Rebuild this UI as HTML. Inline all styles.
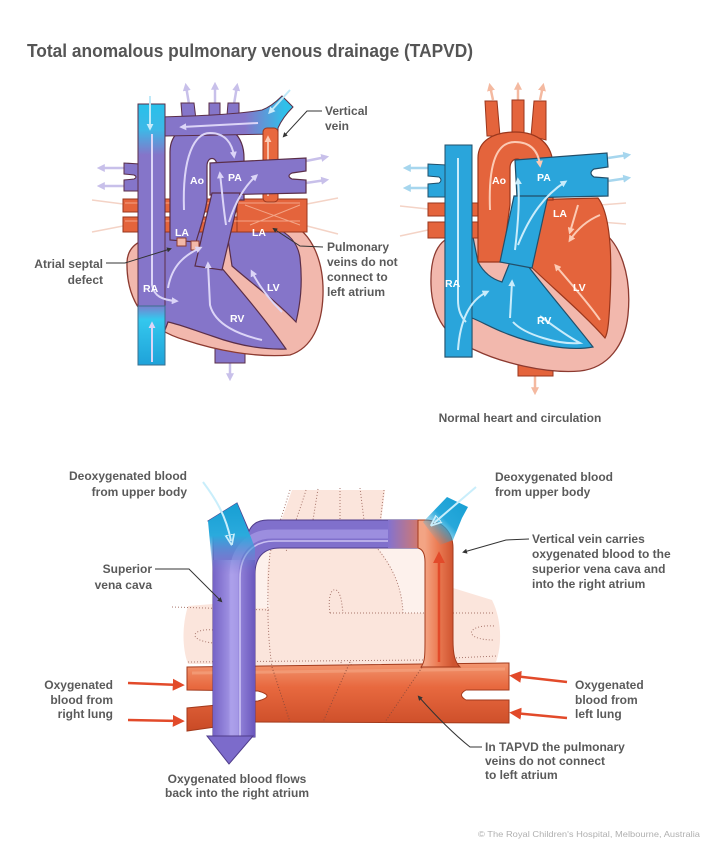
<!DOCTYPE html>
<html><head><meta charset="utf-8"><title>TAPVD</title>
<style>
html,body{margin:0;padding:0;background:#fff;width:720px;height:846px;overflow:hidden}
svg{display:block}
.t{font-family:"Liberation Sans",Arial,sans-serif;font-weight:bold;fill:#5a5a5a;font-size:12px}
.w{font-family:"Liberation Sans",Arial,sans-serif;font-weight:bold;fill:#fff;font-size:10.5px}
</style></head><body>
<svg width="720" height="846" viewBox="0 0 720 846" xmlns="http://www.w3.org/2000/svg">
<defs>
<marker id="mL" viewBox="0 0 10 10" refX="6" refY="5" markerWidth="8" markerHeight="8" markerUnits="userSpaceOnUse" orient="auto"><path d="M0,0 L10,5 L0,10 Z" fill="#c8c0ea"/></marker>
<marker id="mLO" viewBox="0 0 10 10" refX="6" refY="5" markerWidth="8" markerHeight="8" markerUnits="userSpaceOnUse" orient="auto"><path d="M0,0 L10,5 L0,10 Z" fill="#f4b9a0"/></marker>
<marker id="mLB" viewBox="0 0 10 10" refX="6" refY="5" markerWidth="8" markerHeight="8" markerUnits="userSpaceOnUse" orient="auto"><path d="M0,0 L10,5 L0,10 Z" fill="#a6d6ee"/></marker>
<marker id="mW" viewBox="0 0 10 10" refX="6" refY="5" markerWidth="7" markerHeight="7" markerUnits="userSpaceOnUse" orient="auto"><path d="M0,0 L10,5 L0,10 Z" fill="#dcd5f7"/></marker>
<marker id="mWB" viewBox="0 0 10 10" refX="6" refY="5" markerWidth="7" markerHeight="7" markerUnits="userSpaceOnUse" orient="auto"><path d="M0,0 L10,5 L0,10 Z" fill="#c9ecfb"/></marker>
<marker id="mWO" viewBox="0 0 10 10" refX="6" refY="5" markerWidth="7" markerHeight="7" markerUnits="userSpaceOnUse" orient="auto"><path d="M0,0 L10,5 L0,10 Z" fill="#fccab4"/></marker>
<marker id="mR" viewBox="0 0 10 10" refX="6" refY="5" markerWidth="12" markerHeight="12" markerUnits="userSpaceOnUse" orient="auto"><path d="M0,0 L10,5 L0,10 Z" fill="#e24a2a"/></marker>
<marker id="mC" viewBox="0 0 10 10" refX="6" refY="5" markerWidth="11" markerHeight="11" markerUnits="userSpaceOnUse" orient="auto"><path d="M0,1 L10,5 L0,9 Z" fill="none" stroke="#c9eefb" stroke-width="1.6"/></marker>
<marker id="mD" viewBox="0 0 10 10" refX="6" refY="5" markerWidth="5" markerHeight="5" markerUnits="userSpaceOnUse" orient="auto"><path d="M0,0 L10,5 L0,10 Z" fill="#333"/></marker>

<linearGradient id="gSvcL" gradientUnits="userSpaceOnUse" x1="0" y1="104" x2="0" y2="155"><stop offset="0" stop-color="#28c0ea"/><stop offset="0.5" stop-color="#3db8e7"/><stop offset="1" stop-color="#8575c9"/></linearGradient>
<linearGradient id="gIvcL" gradientUnits="userSpaceOnUse" x1="0" y1="304" x2="0" y2="365"><stop offset="0" stop-color="#8575c9"/><stop offset="0.25" stop-color="#34c8ee"/><stop offset="1" stop-color="#1fa2d9"/></linearGradient>
<linearGradient id="gHorzL" gradientUnits="userSpaceOnUse" x1="245" y1="0" x2="285" y2="0"><stop offset="0" stop-color="#8575c9"/><stop offset="1" stop-color="#2fc0ea"/></linearGradient>
<linearGradient id="gBar" gradientUnits="userSpaceOnUse" x1="0" y1="663" x2="0" y2="731"><stop offset="0" stop-color="#f29670"/><stop offset="0.35" stop-color="#e8693f"/><stop offset="1" stop-color="#c94a26"/></linearGradient>
<linearGradient id="gVein" gradientUnits="userSpaceOnUse" x1="425" y1="0" x2="453" y2="0"><stop offset="0" stop-color="#f3a484"/><stop offset="0.45" stop-color="#ec7c54"/><stop offset="1" stop-color="#cf5430"/></linearGradient>
<linearGradient id="gFade" gradientUnits="userSpaceOnUse" x1="388" y1="0" x2="428" y2="0"><stop offset="0" stop-color="#8372d0"/><stop offset="1" stop-color="#e97a52"/></linearGradient>
<linearGradient id="gCyL" gradientUnits="userSpaceOnUse" x1="0" y1="503" x2="0" y2="575"><stop offset="0" stop-color="#179fd3"/><stop offset="0.45" stop-color="#2aaadd"/><stop offset="1" stop-color="#8372d0" stop-opacity="0"/></linearGradient>
<linearGradient id="gCyR" gradientUnits="userSpaceOnUse" x1="466" y1="500" x2="430" y2="537"><stop offset="0" stop-color="#179fd3"/><stop offset="0.55" stop-color="#27a8db"/><stop offset="1" stop-color="#27a8db" stop-opacity="0"/></linearGradient>
<linearGradient id="gPurpV" gradientUnits="userSpaceOnUse" x1="213" y1="0" x2="255" y2="0"><stop offset="0" stop-color="#7563c6"/><stop offset="0.45" stop-color="#a497e6"/><stop offset="1" stop-color="#6a57bd"/></linearGradient>
</defs>

<!-- Title -->
<text x="27" y="57" font-family="Liberation Sans, Arial, sans-serif" font-weight="bold" font-size="18" fill="#555" textLength="446" lengthAdjust="spacingAndGlyphs">Total anomalous pulmonary venous drainage (TAPVD)</text>

<!-- ================= LEFT HEART (TAPVD) ================= -->
<g stroke="#f4d3c6" stroke-width="1.5" fill="none">
<path d="M123 204 L92 200"/><path d="M123 226 L92 232"/><path d="M307 204 L338 198"/><path d="M307 226 L338 234"/>
</g>
<g stroke="#c8c0ea" stroke-width="2.5" fill="none" marker-end="url(#mL)">
<line x1="189" y1="104" x2="186" y2="86"/>
<line x1="215" y1="104" x2="215" y2="85"/>
<line x1="234" y1="104" x2="237" y2="86"/>
<line x1="124" y1="168" x2="100" y2="168"/>
<line x1="124" y1="186" x2="100" y2="186"/>
<line x1="306" y1="161" x2="326" y2="157"/>
<line x1="306" y1="183" x2="326" y2="180"/>
<line x1="230" y1="362" x2="230" y2="378"/>
</g>
<rect x="215" y="330" width="30" height="33" fill="#8575c9" stroke="#5a2e48"/>
<path d="M127 262 C128 240,150 236,175 236 L205 232 L290 224 C312 232,324 262,323 295 C322 325,312 348,290 355 C255 358,215 350,185 340 C150 330,126 305,127 262 Z" fill="#f2b8ad" stroke="#8c3a30" stroke-width="1.3"/>
<path d="M140 225 L214 225 L220 266 C242 292,266 320,286 349 C260 350,234 344,212 336 C196 331,182 325,168 322 L165 330 L140 330 Z" fill="#8575c9" stroke="#5a2e48" stroke-width="1.2"/>
<path d="M226 226 C262 218,296 228,300 258 C303 285,300 305,296 322 C275 300,250 282,232 266 Z" fill="#8575c9" stroke="#5a2e48" stroke-width="1.2"/>
<g fill="#e4643c" stroke="#9a361c" stroke-width="1">
<rect x="123" y="199" width="184" height="13"/>
<rect x="123" y="217" width="184" height="15"/>
<rect x="237" y="199" width="70" height="33"/>
</g>
<g stroke="#f6b59a" stroke-width="1" fill="none" opacity=".8"><path d="M245 205 L300 225 M250 225 L300 205 M125 203 L300 203 M125 221 L300 221"/></g>
<path d="M140 164 L124 163 L124 174 L134 175 Q138 177 134 179 L124 180 L124 191 L140 191 Z" fill="#8575c9" stroke="#5a2e48"/>
<g fill="#8575c9" stroke="#5a2e48">
<path d="M183 128 L181 103 L194 103 L197 128 Z"/>
<rect x="209" y="103" width="11" height="24"/>
<path d="M226 128 L228 103 L239 103 L239 132 Z"/>
</g>
<path d="M170 240 L170 152 C170 132,186 123,207 123 C229 123,244 135,244 158 L244 200 L217 200 L217 166 C217 156,207 156,207 166 L207 200 C205 215,200 228,196 242 Z" fill="#8575c9" stroke="#5a2e48" stroke-width="1.2"/>
<path d="M160 117 C200 116,240 114,262 110 C270 107,276 102,282 96 L293 107 C287 113,281 121,278 128 L278 134 L165 136 Z" fill="url(#gHorzL)" stroke="#5a2e48"/>
<rect x="263" y="128" width="15" height="74" rx="4" fill="#e8683e" stroke="#9a361c"/>
<line x1="268" y1="196" x2="268" y2="138" stroke="#f6c0a8" stroke-width="2" marker-end="url(#mWO)"/>
<line x1="290" y1="90" x2="270" y2="112" stroke="#bfe9f8" stroke-width="2" marker-end="url(#mWB)"/>
<path d="M210 163 L306 158 L306 171 L292 173 Q286 176 292 179 L306 180 L306 193 L210 195 Z" fill="#8575c9" stroke="#5a2e48" stroke-width="1.2"/>
<path d="M212 193 L240 193 L222 270 L195 266 Z" fill="#8575c9" stroke="#5a2e48" stroke-width="1.2"/>
<rect x="138" y="104" width="27" height="212" fill="url(#gSvcL)" stroke="#5a2e48"/>
<rect x="138" y="306" width="27" height="59" fill="url(#gIvcL)" stroke="#3b6f8e"/>
<line x1="150" y1="96" x2="150" y2="128" stroke="#bfe9f8" stroke-width="2" marker-end="url(#mWB)"/>
<rect x="177" y="238" width="9" height="8" fill="#f2b8a8" stroke="#8c3a30"/>
<rect x="191" y="241" width="8" height="9" fill="#f2b8a8" stroke="#8c3a30"/>
<g stroke="#dcd5f7" stroke-width="2" fill="none" marker-end="url(#mW)">
<path d="M152 134 L152 285 C154 296,162 300,176 301"/>
<path d="M152 362 L152 324"/>
<path d="M168 288 C172 265,185 255,200 248"/>
<path d="M184 210 C182 155,195 133,210 133 C225 133,232 143,234 156"/>
<path d="M258 123 L182 127"/>
<path d="M226 225 C223 205,222 190,220 174"/>
<path d="M229 222 C236 200,245 186,256 176"/>
<path d="M262 340 C240 335,215 325,210 305 L208 264"/>
<path d="M282 312 C270 300,260 288,252 272"/>
</g>
<g class="w">
<text x="190" y="184">Ao</text><text x="228" y="181">PA</text>
<text x="175" y="236">LA</text><text x="252" y="236">LA</text>
<text x="143" y="292">RA</text><text x="267" y="291">LV</text><text x="230" y="322">RV</text>
</g>
<g stroke="#333" stroke-width="1" fill="none">
<path d="M322 111 L307 111 L284 136" marker-end="url(#mD)"/>
<path d="M323 247 L300 246 L274 229" marker-end="url(#mD)"/>
<path d="M106 263 L125 263 L170 249" marker-end="url(#mD)"/>
</g>
<text class="t" x="325" y="115">Vertical</text>
<text class="t" x="325" y="130">vein</text>
<text class="t" x="327" y="251">Pulmonary</text>
<text class="t" x="327" y="266">veins do not</text>
<text class="t" x="327" y="281">connect to</text>
<text class="t" x="327" y="296">left atrium</text>
<text class="t" x="103" y="268" text-anchor="end">Atrial septal</text>
<text class="t" x="103" y="284" text-anchor="end">defect</text>

<!-- ================= RIGHT HEART (normal) ================= -->
<g stroke="#f4d3c6" stroke-width="1.5" fill="none">
<path d="M428 209 L400 206"/><path d="M428 230 L400 236"/><path d="M600 205 L626 203"/><path d="M600 222 L626 224"/>
</g>
<g stroke="#f4b9a0" stroke-width="2.5" fill="none" marker-end="url(#mLO)">
<line x1="493" y1="100" x2="490" y2="86"/>
<line x1="518" y1="100" x2="518" y2="85"/>
<line x1="540" y1="100" x2="543" y2="86"/>
<line x1="535" y1="376" x2="535" y2="392"/>
</g>
<g stroke="#a6d6ee" stroke-width="2.5" fill="none" marker-end="url(#mLB)">
<line x1="428" y1="168" x2="406" y2="168"/>
<line x1="428" y1="188" x2="406" y2="188"/>
<line x1="608" y1="158" x2="628" y2="155"/>
<line x1="608" y1="181" x2="628" y2="178"/>
</g>
<rect x="518" y="330" width="35" height="46" fill="#e4643c" stroke="#9a361c"/>
<path d="M431 285 C430 252,440 236,462 234 L520 228 L600 230 C620 242,632 275,628 315 C625 345,608 368,580 371 C545 374,500 362,475 350 C445 338,432 315,431 285 Z" fill="#f2b8ad" stroke="#8c3a30" stroke-width="1.3"/>
<path d="M522 200 L598 198 C611 215,612 260,610 300 C609 320,608 333,605 338 C585 315,555 290,527 263 Z" fill="#e4643c" stroke="#9a361c" stroke-width="1.2"/>
<path d="M445 232 L472 232 L478 262 C485 275,495 280,502 282 L510 262 L528 266 C548 292,572 320,593 347 C566 352,530 343,505 333 C492 328,482 322,472 318 L472 357 L445 357 Z" fill="#2aa5db" stroke="#224f6a" stroke-width="1.2"/>
<g fill="#e4643c" stroke="#9a361c">
<rect x="428" y="203" width="55" height="13"/>
<rect x="428" y="222" width="55" height="16"/>
</g>
<path d="M447 165 L428 164 L428 176 L439 177 Q443 180 439 183 L428 184 L428 197 L447 197 Z" fill="#2aa5db" stroke="#224f6a"/>
<g fill="#e4643c" stroke="#9a361c">
<path d="M487 136 L485 101 L497 101 L500 136 Z"/>
<rect x="512" y="100" width="12" height="36"/>
<path d="M531 136 L534 101 L546 101 L546 140 Z"/>
</g>
<path d="M478 262 L478 158 C478 141,493 132,515 132 C538 132,553 144,553 167 L553 200 L524 200 L524 168 C524 156,510 156,510 168 L510 205 C507 225,505 245,503 262 Z" fill="#e4643c" stroke="#9a361c" stroke-width="1.2"/>
<path d="M515 160 L607 153 L608 167 L594 169 Q588 173 594 177 L608 178 L608 196 L517 198 Z" fill="#2aa5db" stroke="#224f6a" stroke-width="1.2"/>
<path d="M514 196 L548 196 L532 268 L500 262 Z" fill="#2aa5db" stroke="#224f6a" stroke-width="1.2"/>
<rect x="445" y="145" width="27" height="212" fill="#2aa5db" stroke="#224f6a"/>
<g stroke="#c9ecfb" stroke-width="2" fill="none" marker-end="url(#mWB)">
<path d="M458 350 C460 320,470 300,487 292"/>
<path d="M510 318 L512 282"/>
<path d="M515 250 C518 225,520 200,518 180"/>
<path d="M518 245 C530 215,545 195,565 182"/>
</g>
<path d="M458 158 L458 300 C458 312,462 318,466 322" stroke="#c9ecfb" stroke-width="2" fill="none"/>
<path d="M513 322 C525 335,560 345,580 343 C565 335,548 322,540 316" stroke="#c9ecfb" stroke-width="2" fill="none"/>
<g stroke="#fccab4" stroke-width="2" fill="none" marker-end="url(#mWO)">
<path d="M490 210 C488 160,498 142,515 142 C530 142,538 150,540 165"/>
<path d="M600 215 C588 220,578 228,570 240"/>
<path d="M578 205 L570 232"/>
<path d="M600 320 C590 305,572 285,556 266"/>
</g>
<g class="w">
<text x="492" y="184">Ao</text><text x="537" y="181">PA</text>
<text x="553" y="217">LA</text><text x="445" y="287">RA</text>
<text x="573" y="291">LV</text><text x="537" y="324">RV</text>
</g>
<text class="t" x="520" y="422" text-anchor="middle">Normal heart and circulation</text>

<!-- ================= BOTTOM DIAGRAM ================= -->
<rect x="255" y="548" width="171" height="119" fill="#fdf1ec"/>
<g fill="#fbe5dc">
<path d="M292 490 L385 490 L378 548 C395 570,402 590,403 613 L426 613 L426 667 L255 667 L255 608 L270 608 C266 590,266 570,270 553 Z"/>
<path d="M213 604 L188 606 C182 625,182 648,188 664 L213 664 Z"/>
<path d="M453 588 L492 600 C502 620,502 645,496 662 L453 665 Z"/>
</g>
<g stroke="#a8766c" stroke-width="1" stroke-dasharray="1 2" fill="none">
<path d="M290 490 L270 553 C266 600,268 640,272 667"/>
<path d="M306 490 C300 510,292 530,286 552"/>
<path d="M318 489 L313 520"/>
<path d="M340 488 L340 520"/>
<path d="M360 488 L364 520"/>
<path d="M384 490 L377 548 C395 570,402 590,403 613"/>
<path d="M330 613 L426 613"/><path d="M453 613 L494 613"/>
<path d="M330 613 C328 600,330 588,336 590 C341 592,342 605,343 613"/>
<path d="M172 607 L270 610"/>
<path d="M213 630 C192 628,186 640,213 643"/>
<path d="M188 662 L426 660"/><path d="M453 658 L497 656"/>
<path d="M341 662 C342 670,350 671,352 662"/>
<path d="M494 626 C466 624,462 640,494 640"/>
</g>
<path d="M187 667 L505 663 L509 663 L509 690 L466 690 Q457 695 466 700 L509 700 L509 723 L250 722 L187 731 L187 708 L258 701 Q276 696 258 691 L187 690 Z" fill="url(#gBar)" stroke="#a33a1c" stroke-width="1"/>
<path d="M192 673 L505 669" stroke="#f5a783" stroke-width="3" opacity=".6" fill="none"/>
<g stroke="#8e4a3a" stroke-width="1" stroke-dasharray="1 2" fill="none">
<path d="M272 667 L290 722"/>
<path d="M350 662 L323 722"/>
<path d="M427 660 L385 722"/>
</g>
<path d="M213 737 L213 524 L208 521 L237 503 L249 531 C252 524,258 520,268 520 L422 520 L422 548 L280 548 C264 548,255 557,255 574 L255 737 Z" fill="#8070cc" stroke="#4f3c8a" stroke-width="1"/>
<rect x="213" y="560" width="42" height="177" fill="url(#gPurpV)"/>
<path d="M234 737 L234 575 C234 552,248 534,272 534 L415 534" stroke="#b2a7ee" stroke-width="9" opacity=".55" fill="none"/>
<path d="M240 737 L240 578 C240 556,252 541,274 541 L410 541" stroke="#dcd6fb" stroke-width="1.6" opacity=".8" fill="none"/>
<rect x="388" y="520" width="40" height="28" fill="url(#gFade)"/>
<path d="M421 667 C425 662,425 655,425 640 L425 562 C425 553,422 549,418 548 L418 520 L425 520 C442 520,453 532,453 548 L453 640 C453 655,455 662,460 667 Z" fill="url(#gVein)" stroke="#a33a1c" stroke-width="1"/>
<line x1="439" y1="662" x2="439" y2="556" stroke="#e24a2a" stroke-width="2.5" marker-end="url(#mR)"/>
<path d="M208 521 L237 503 L250 535 L255 548 L255 575 L213 575 Z" fill="url(#gCyL)"/>
<path d="M423 522 L447 497 L468 507 L462 518 L453 540 L440 545 Z" fill="url(#gCyR)"/>
<path d="M203 482 C215 498,226 515,231 541" stroke="#c9eefb" stroke-width="2" fill="none" marker-end="url(#mC)"/>
<path d="M476 487 L434 523" stroke="#c9eefb" stroke-width="2" fill="none" marker-end="url(#mC)"/>
<path d="M207 736 L253 736 L229 764 Z" fill="#7c6bcb" stroke="#4f3c8a" stroke-width="1"/>
<g stroke="#e24a2a" stroke-width="2.5" fill="none" marker-end="url(#mR)">
<line x1="128" y1="683" x2="180" y2="685"/>
<line x1="128" y1="720" x2="180" y2="721"/>
<line x1="567" y1="682" x2="514" y2="676"/>
<line x1="567" y1="718" x2="514" y2="713"/>
</g>
<g stroke="#333" stroke-width="1" fill="none">
<path d="M155 569 L189 569 L221 601" marker-end="url(#mD)"/>
<path d="M529 539 L506 540 L464 552" marker-end="url(#mD)"/>
<path d="M482 747 L470 747 C455 735,435 715,419 697" marker-end="url(#mD)"/>
</g>
<text class="t" x="187" y="480" text-anchor="end">Deoxygenated blood</text>
<text class="t" x="187" y="496" text-anchor="end">from upper body</text>
<text class="t" x="152" y="573" text-anchor="end">Superior</text>
<text class="t" x="152" y="589" text-anchor="end">vena cava</text>
<text class="t" x="495" y="481">Deoxygenated blood</text>
<text class="t" x="495" y="496">from upper body</text>
<text class="t" x="532" y="543">Vertical vein carries</text>
<text class="t" x="532" y="558">oxygenated blood to the</text>
<text class="t" x="532" y="573">superior vena cava and</text>
<text class="t" x="532" y="588">into the right atrium</text>
<text class="t" x="113" y="689" text-anchor="end">Oxygenated</text>
<text class="t" x="113" y="704" text-anchor="end">blood from</text>
<text class="t" x="113" y="718" text-anchor="end">right lung</text>
<text class="t" x="575" y="689">Oxygenated</text>
<text class="t" x="575" y="704">blood from</text>
<text class="t" x="575" y="718">left lung</text>
<text class="t" x="237" y="783" text-anchor="middle">Oxygenated blood flows</text>
<text class="t" x="237" y="797" text-anchor="middle">back into the right atrium</text>
<text class="t" x="485" y="751">In TAPVD the pulmonary</text>
<text class="t" x="485" y="765">veins do not connect</text>
<text class="t" x="485" y="779">to left atrium</text>
<text x="478" y="837" font-family="Liberation Sans, Arial, sans-serif" font-size="8.5" fill="#b0b0b0" textLength="222" lengthAdjust="spacingAndGlyphs">© The Royal Children's Hospital, Melbourne, Australia</text>
</svg>
</body></html>
